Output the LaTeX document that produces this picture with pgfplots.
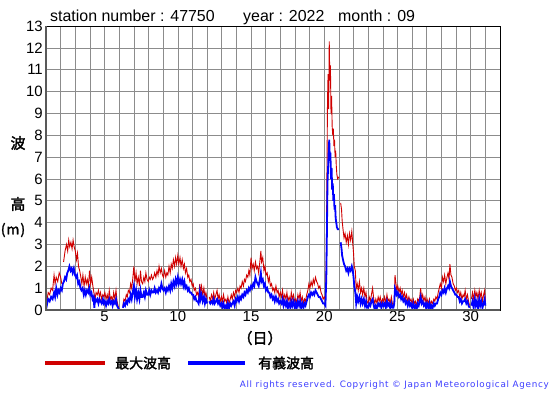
\documentclass[border=0pt]{standalone}
\usepackage{pgfplots}
\pgfplotsset{compat=1.18}
\usepackage{fontspec}
\setmainfont{Liberation Sans}
\newfontfamily\jp{Noto Sans CJK JP}[AutoFakeBold=2]
\newfontfamily\cpf{DejaVu Sans}
\definecolor{maxred}{RGB}{208,0,0}
\definecolor{sigblue}{RGB}{0,0,255}
\definecolor{cpblue}{RGB}{60,60,255}
\begin{document}
\begin{tikzpicture}[x=1bp,y=1bp]
\useasboundingbox (0,0) rectangle (555,-395);
\begin{axis}[
 at={(46bp,-310bp)}, anchor=south west, scale only axis,
 width=454bp, height=284bp,
 xmin=1, xmax=32, ymin=0, ymax=13,
 xtick={5,10,...,30}, minor xtick={1,...,32},
 ytick={0,...,13},
 grid=both,
 major grid style={black!45, line width=0.6bp},
 minor grid style={black!45, line width=0.6bp},
 major tick length=0pt, minor tick length=0pt,
 axis line style={black, line width=0.8bp},
 tick label style={font=\fontsize{15}{15}\selectfont, inner sep=1bp},
 /pgf/number format/assume math mode=true,
 yticklabel style={xshift=-2bp},
 unbounded coords=jump,
 clip mode=individual,
]
\addplot[maxred, line width=0.9bp] table {
1.00 0.1
1.08 0.5
1.15 0.8
1.25 0.7
1.35 1.0
1.45 0.9
1.55 1.6
1.62 1.2
1.70 1.5
1.80 1.3
1.90 1.7
2.00 1.5
2.08 1.2
2.15 nan
2.20 2.2
2.30 2.7
2.40 3.0
2.48 2.7
2.55 3.2
2.62 2.9
2.70 3.1
2.78 2.8
2.85 3.2
2.92 2.9
3.00 2.7
3.08 2.3
3.15 2.6
3.22 2.0
3.30 1.8
3.38 1.5
3.45 1.2
3.52 1.6
3.60 1.1
3.68 1.5
3.75 1.2
3.82 1.4
3.90 1.1
3.97 1.8
4.05 1.2
4.12 1.5
4.20 1.1
4.27 0.8
4.35 0.5
4.42 0.8
4.50 0.7
4.58 0.9
4.65 0.6
4.72 0.8
4.80 0.5
4.88 0.7
4.95 0.6
5.02 0.8
5.10 0.5
5.18 0.7
5.25 0.4
5.32 0.9
5.40 0.5
5.48 0.6
5.55 0.4
5.62 0.8
5.70 0.5
5.78 0.9
5.85 0.4
5.92 0.2
6.00 0.0
6.08 nan
6.25 0.2
6.32 0.5
6.40 0.4
6.48 0.7
6.55 0.6
6.62 0.9
6.70 0.8
6.78 1.2
6.85 1.0
6.92 1.4
7.00 2.0
7.07 1.3
7.15 1.7
7.22 1.2
7.30 1.5
7.38 1.1
7.45 1.8
7.52 1.3
7.60 1.2
7.68 1.5
7.75 1.3
7.82 1.7
7.90 1.4
7.98 1.3
8.05 1.5
8.12 1.4
8.20 1.6
8.28 1.4
8.35 1.5
8.42 1.7
8.50 1.5
8.58 1.8
8.65 1.6
8.72 2.0
8.80 1.7
8.88 1.9
8.95 1.6
9.02 1.5
9.10 1.8
9.18 1.5
9.25 1.7
9.32 1.6
9.40 2.0
9.48 1.7
9.55 2.1
9.62 1.9
9.70 2.3
9.78 2.0
9.85 2.4
9.92 2.1
10.00 2.5
10.07 2.1
10.15 2.4
10.22 2.0
10.30 2.3
10.38 1.9
10.45 2.1
10.52 1.7
10.60 1.9
10.68 1.5
10.75 1.6
10.82 1.3
10.90 1.4
10.98 1.1
11.05 1.2
11.12 0.9
11.20 1.0
11.28 0.7
11.35 0.8
11.42 0.6
11.50 1.2
11.55 0.8
11.62 1.1
11.70 0.7
11.78 1.0
11.85 0.6
11.92 0.8
12.00 0.5
12.05 nan
12.15 0.6
12.22 0.4
12.30 0.7
12.38 0.5
12.45 0.8
12.52 0.5
12.60 0.7
12.68 0.9
12.75 0.5
12.82 0.7
12.90 0.4
12.98 0.6
13.05 0.4
13.12 0.7
13.20 0.4
13.28 0.5
13.35 0.3
13.42 0.6
13.50 0.3
13.58 0.5
13.65 0.7
13.72 0.5
13.80 0.8
13.88 0.6
13.95 0.9
14.02 0.8
14.10 1.0
14.18 0.8
14.25 1.1
14.32 1.0
14.40 1.3
14.48 1.1
14.55 1.4
14.62 1.3
14.70 1.6
14.78 1.5
14.85 1.8
14.92 1.6
15.00 2.4
15.07 1.9
15.15 2.1
15.22 1.8
15.30 2.2
15.38 1.9
15.45 2.0
15.52 1.7
15.60 2.2
15.67 2.7
15.72 2.2
15.80 2.4
15.88 1.8
15.95 2.0
16.02 1.6
16.10 1.7
16.18 1.3
16.25 1.5
16.32 1.1
16.40 1.2
16.48 0.9
16.55 1.0
16.62 0.8
16.70 1.1
16.78 0.8
16.85 0.9
16.92 0.6
17.00 0.8
17.08 0.6
17.15 0.9
17.22 0.5
17.30 0.7
17.38 0.5
17.45 0.8
17.52 0.4
17.60 0.6
17.68 0.4
17.75 0.8
17.82 0.5
17.90 0.7
17.98 0.4
18.05 0.5
18.12 0.3
18.20 0.7
18.28 0.5
18.35 0.8
18.42 0.4
18.50 0.6
18.58 0.3
18.65 0.5
18.72 0.4
18.80 0.7
18.88 0.9
18.95 1.2
19.02 1.0
19.10 1.3
19.18 1.1
19.25 1.4
19.32 1.2
19.40 1.5
19.48 1.3
19.55 1.2
19.62 1.0
19.70 1.1
19.78 0.8
19.85 0.7
19.92 0.5
20.00 0.6
20.08 0.5
20.14 2.5
20.18 6.0
20.22 9.5
20.26 10.8
20.30 9.2
20.34 12.3
20.38 10.5
20.42 11.2
20.46 9.0
20.50 9.8
20.54 8.4
20.58 8.0
20.62 8.3
20.66 7.5
20.70 7.8
20.74 7.0
20.78 7.3
20.82 6.6
20.86 6.2
20.92 6.0
21.00 6.1
21.05 nan
21.12 4.9
21.18 4.6
21.22 4.1
21.28 3.7
21.35 3.3
21.42 3.5
21.50 3.1
21.58 3.4
21.65 3.0
21.72 3.5
21.80 3.2
21.88 3.6
21.95 3.0
22.00 2.6
22.05 2.0
22.12 1.8
22.18 1.0
22.25 1.2
22.32 0.9
22.40 1.3
22.48 0.8
22.55 1.0
22.62 0.7
22.70 1.0
22.78 0.6
22.85 0.8
22.92 0.4
23.00 0.3
23.07 0.6
23.15 0.4
23.22 0.7
23.30 1.0
23.38 0.5
23.45 0.3
23.52 0.5
23.60 0.3
23.68 0.6
23.75 0.4
23.82 0.6
23.90 0.3
23.98 0.5
24.05 0.4
24.12 0.6
24.20 0.3
24.28 0.7
24.35 0.4
24.42 0.5
24.50 0.3
24.58 0.6
24.65 0.3
24.72 0.2
24.78 0.4
24.83 1.6
24.88 1.3
24.95 0.9
25.02 1.1
25.10 0.8
25.18 1.0
25.25 0.7
25.32 0.9
25.40 0.6
25.48 0.8
25.55 0.5
25.62 0.7
25.70 0.4
25.78 0.6
25.85 0.4
25.92 0.5
26.00 0.3
26.08 0.5
26.15 0.3
26.22 0.4
26.30 0.2
26.38 0.5
26.45 0.4
26.52 0.6
26.58 1.0
26.65 0.5
26.72 0.7
26.80 0.4
26.88 0.6
26.95 0.3
27.02 0.5
27.10 0.3
27.18 0.5
27.25 0.2
27.32 0.4
27.40 0.3
27.48 0.5
27.55 0.4
27.62 0.6
27.70 0.5
27.78 0.8
27.85 1.0
27.92 1.2
28.00 1.0
28.07 1.5
28.15 1.3
28.22 1.6
28.30 1.2
28.38 1.5
28.45 1.7
28.52 1.4
28.58 2.1
28.65 1.6
28.72 1.5
28.80 1.2
28.88 1.1
28.95 0.9
29.02 1.0
29.10 0.8
29.18 0.9
29.25 0.6
29.32 0.8
29.40 0.5
29.48 0.7
29.55 0.6
29.62 0.9
29.70 0.5
29.78 0.7
29.85 0.4
29.92 0.2
29.98 nan
30.05 0.5
30.12 0.8
30.20 0.5
30.28 0.9
30.35 0.6
30.42 0.8
30.50 0.5
30.58 0.9
30.65 0.6
30.72 0.8
30.80 0.4
30.88 0.7
30.95 0.9
31.00 0.4
};
\addplot[sigblue, line width=1.8bp] table {
1.00 0.0
1.08 0.3
1.15 0.5
1.25 0.4
1.35 0.6
1.45 0.5
1.55 0.8
1.62 0.6
1.70 1.0
1.78 0.7
1.85 0.9
1.92 0.8
2.00 1.0
2.08 0.9
2.15 1.2
2.22 1.3
2.30 1.5
2.38 1.4
2.45 1.7
2.52 1.8
2.60 2.0
2.68 1.8
2.75 1.9
2.82 1.7
2.90 1.9
2.98 1.6
3.05 1.5
3.12 1.6
3.20 1.2
3.28 1.3
3.35 1.0
3.42 0.9
3.50 1.0
3.58 0.7
3.65 0.9
3.72 0.7
3.80 0.9
3.88 0.8
3.95 1.0
4.02 0.7
4.10 0.8
4.18 0.5
4.25 0.6
4.30 0.1
4.35 0.5
4.42 0.4
4.50 0.5
4.58 0.3
4.65 0.5
4.72 0.4
4.80 0.3
4.88 0.5
4.95 0.3
5.02 0.4
5.10 0.2
5.18 0.4
5.25 0.3
5.32 0.5
5.40 0.3
5.48 0.4
5.55 0.2
5.62 0.4
5.70 0.3
5.78 0.5
5.85 0.2
5.92 0.1
6.00 0.0
6.08 nan
6.25 0.1
6.32 0.3
6.40 0.2
6.48 0.4
6.55 0.3
6.62 0.5
6.70 0.4
6.78 0.7
6.85 0.5
6.92 0.8
7.00 1.1
7.07 0.6
7.15 0.9
7.22 0.5
7.30 0.8
7.38 0.5
7.45 0.9
7.52 0.6
7.60 0.6
7.68 0.8
7.75 0.6
7.82 0.9
7.90 0.7
7.98 0.7
8.05 0.9
8.12 0.7
8.20 0.9
8.28 0.8
8.35 0.8
8.42 1.0
8.50 0.8
8.58 0.9
8.65 0.8
8.72 1.0
8.80 0.9
8.88 1.2
8.95 1.0
9.02 0.9
9.10 1.0
9.18 0.8
9.25 1.0
9.32 0.9
9.40 1.1
9.48 0.9
9.55 1.2
9.62 1.0
9.70 1.3
9.78 1.1
9.85 1.4
9.92 1.2
10.00 1.5
10.07 1.2
10.15 1.4
10.22 1.2
10.30 1.4
10.38 1.1
10.45 1.3
10.52 1.0
10.60 1.1
10.68 0.9
10.75 1.0
10.82 0.8
10.90 0.8
10.98 0.7
11.05 0.7
11.12 0.5
11.20 0.6
11.28 0.4
11.35 0.4
11.42 0.3
11.50 0.8
11.55 0.5
11.62 0.7
11.70 0.4
11.78 0.6
11.85 0.3
11.92 0.5
12.00 0.3
12.05 nan
12.15 0.4
12.22 0.3
12.30 0.4
12.38 0.3
12.45 0.5
12.52 0.3
12.60 0.4
12.68 0.5
12.75 0.3
12.82 0.4
12.90 0.2
12.98 0.3
13.05 0.1
13.12 0.3
13.20 0.1
13.28 0.2
13.35 0.0
13.42 0.3
13.50 0.1
13.58 0.3
13.65 0.2
13.72 0.3
13.80 0.4
13.88 0.2
13.95 0.5
14.02 0.4
14.10 0.6
14.18 0.4
14.25 0.6
14.32 0.5
14.40 0.7
14.48 0.6
14.55 0.8
14.62 0.7
14.70 0.9
14.78 0.8
14.85 1.0
14.92 0.9
15.00 1.1
15.07 1.0
15.15 1.2
15.22 1.1
15.30 1.5
15.38 1.3
15.45 1.2
15.52 1.1
15.60 1.4
15.67 1.7
15.72 1.3
15.80 1.4
15.88 1.1
15.95 1.2
16.02 0.9
16.10 1.0
16.18 0.8
16.25 0.8
16.32 0.6
16.40 0.7
16.48 0.5
16.55 0.6
16.62 0.4
16.70 0.6
16.78 0.4
16.85 0.5
16.92 0.3
17.00 0.4
17.08 0.3
17.15 0.5
17.22 0.2
17.30 0.4
17.38 0.2
17.45 0.4
17.52 0.1
17.60 0.3
17.68 0.1
17.75 0.4
17.82 0.2
17.90 0.4
17.98 0.1
18.05 0.3
18.12 0.1
18.20 0.4
18.28 0.2
18.35 0.4
18.42 0.1
18.50 0.3
18.58 0.1
18.65 0.3
18.72 0.2
18.80 0.4
18.88 0.6
18.95 0.7
19.02 0.6
19.10 0.8
19.18 0.7
19.25 0.8
19.32 0.7
19.40 0.9
19.48 0.8
19.55 0.7
19.62 0.6
19.70 0.6
19.78 0.5
19.85 0.4
19.92 0.3
20.00 0.3
20.08 0.2
20.14 1.5
20.18 3.5
20.22 5.8
20.26 6.5
20.30 7.2
20.34 7.8
20.38 6.9
20.42 7.2
20.46 6.0
20.50 6.5
20.54 5.5
20.58 5.8
20.62 5.0
20.66 5.3
20.70 4.6
20.74 4.8
20.78 4.2
20.82 4.0
20.86 3.8
20.92 3.7
21.00 3.7
21.05 nan
21.12 3.1
21.18 2.8
21.22 2.5
21.28 2.3
21.35 2.1
21.42 2.0
21.50 1.8
21.58 1.9
21.65 1.7
21.72 1.9
21.80 1.8
21.88 2.0
21.95 1.8
22.00 1.5
22.05 1.1
22.12 0.8
22.18 0.3
22.25 0.6
22.32 0.4
22.40 0.6
22.48 0.3
22.55 0.5
22.62 0.3
22.70 0.5
22.78 0.2
22.85 0.4
22.92 0.1
23.00 0.1
23.07 0.3
23.15 0.2
23.22 0.4
23.30 0.5
23.38 0.2
23.45 0.0
23.52 0.2
23.60 0.1
23.68 0.3
23.75 0.2
23.82 0.3
23.90 0.1
23.98 0.3
24.05 0.2
24.12 0.3
24.20 0.1
24.28 0.4
24.35 0.2
24.42 0.3
24.50 0.1
24.58 0.3
24.65 0.1
24.72 0.1
24.78 0.3
24.83 1.0
24.88 0.9
24.95 0.7
25.02 0.8
25.10 0.6
25.18 0.7
25.25 0.5
25.32 0.6
25.40 0.4
25.48 0.5
25.55 0.3
25.62 0.4
25.70 0.2
25.78 0.4
25.85 0.2
25.92 0.3
26.00 0.1
26.08 0.3
26.15 0.1
26.22 0.2
26.30 0.0
26.38 0.3
26.45 0.2
26.52 0.4
26.58 0.6
26.65 0.3
26.72 0.4
26.80 0.2
26.88 0.3
26.95 0.1
27.02 0.3
27.10 0.1
27.18 0.3
27.25 0.0
27.32 0.2
27.40 0.1
27.48 0.3
27.55 0.2
27.62 0.3
27.70 0.3
27.78 0.5
27.85 0.6
27.92 0.8
28.00 0.7
28.07 0.9
28.15 0.8
28.22 1.0
28.30 0.8
28.38 1.0
28.45 1.1
28.52 1.0
28.58 1.3
28.65 1.1
28.72 1.0
28.80 0.9
28.88 0.8
28.95 0.7
29.02 0.7
29.10 0.6
29.18 0.6
29.25 0.4
29.32 0.5
29.40 0.3
29.48 0.4
29.55 0.4
29.62 0.5
29.70 0.3
29.78 0.4
29.85 0.2
29.92 0.1
29.98 nan
30.05 0.2
30.12 0.4
30.20 0.1
30.28 0.5
30.35 0.2
30.42 0.4
30.50 0.1
30.58 0.5
30.65 0.2
30.72 0.4
30.80 0.1
30.88 0.3
30.95 0.5
31.00 0.2
};
\draw[black!65, line width=2.2bp] (axis cs:1,13) -- (axis cs:1,0) -- (axis cs:32,0);
\end{axis}
% title
\node[anchor=base west, inner sep=0pt, font=\fontsize{16}{16}\selectfont] at (50,-21) {station number : 47750};
\node[anchor=base west, inner sep=0pt, font=\fontsize{16}{16}\selectfont] at (243,-21) {year : 2022};
\node[anchor=base west, inner sep=0pt, font=\fontsize{16}{16}\selectfont] at (338,-21) {month : 09};
% y label
\node[inner sep=0pt, font=\jp\bfseries\fontsize{15}{15}\selectfont] at (18,-143) {波};
\node[inner sep=0pt, font=\jp\bfseries\fontsize{15}{15}\selectfont] at (18,-204) {高};
\node[inner sep=0pt, font=\jp\bfseries\fontsize{14}{14}\selectfont] at (13,-230) {(\kern1bp m\kern1bp)};
% x label
\node[inner sep=0pt, font=\jp\bfseries\fontsize{15}{15}\selectfont] at (260,-338) {（日）};
% legend
\draw[maxred, line width=3.3bp] (45,-363) -- (105,-363);
\node[anchor=west, inner sep=0pt, font=\jp\bfseries\fontsize{14}{14}\selectfont] at (115,-363) {最大波高};
\draw[sigblue, line width=3.3bp] (188,-363) -- (245,-363);
\node[anchor=west, inner sep=0pt, font=\jp\bfseries\fontsize{14}{14}\selectfont] at (258,-363) {有義波高};
% copyright
\node[anchor=east, inner sep=0pt, text=cpblue] at (549,-385) {\resizebox{309bp}{!}{\cpf\addfontfeature{LetterSpace=8}All rights reserved. Copyright © Japan Meteorological Agency}};
\end{tikzpicture}
\end{document}
